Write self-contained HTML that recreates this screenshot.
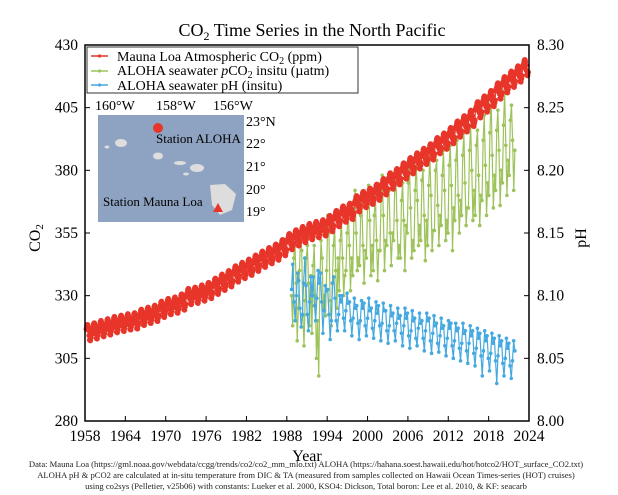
<!DOCTYPE html>
<html><head><meta charset="utf-8"><style>
body{margin:0;background:#fff}
svg{display:block;font-family:"Liberation Serif",serif}
</style></head><body>
<svg id="chart" width="618" height="495" viewBox="0 0 618 495" xmlns="http://www.w3.org/2000/svg">
<text x="312" y="36" font-size="18" text-anchor="middle">CO<tspan font-size="12" dy="4">2</tspan><tspan dy="-4"> Time Series in the North Pacific</tspan></text>
<g id="plot"></g>
<rect x="85" y="45" width="444" height="376" fill="none" stroke="#000" stroke-width="1.5"/>
<g id="axes"></g>
<text transform="translate(40,238) rotate(-90)" font-size="16" text-anchor="middle">CO<tspan font-size="11" dy="3">2</tspan></text>
<text transform="translate(586,238) rotate(-90)" font-size="16" text-anchor="middle">pH</text>
<text x="307" y="461" font-size="16" text-anchor="middle">Year</text>
<g font-size="8.6" text-anchor="middle" fill="#222">
<text x="306" y="467">Data: Mauna Loa (https://gml.noaa.gov/webdata/ccgg/trends/co2/co2_mm_mlo.txt) ALOHA (https://hahana.soest.hawaii.edu/hot/hotco2/HOT_surface_CO2.txt)</text>
<text x="306" y="478">ALOHA pH &amp; pCO2 are calculated at in-situ temperature from DIC &amp; TA (measured from samples collected on Hawaii Ocean Times-series (HOT) cruises)</text>
<text x="306" y="489">using co2sys (Pelletier, v25b06) with constants: Lueker et al. 2000, KSO4: Dickson, Total boron: Lee et al. 2010, &amp; KF: seacarb</text>
</g>
<g>
<rect x="87" y="47" width="271" height="46" fill="#fff" stroke="#333" stroke-width="1"/>
<line x1="91" y1="56" x2="108" y2="56" stroke="#e8352a" stroke-width="1.5"/><circle cx="99.5" cy="56" r="1.6" fill="#e8352a"/>
<text x="117" y="61" font-size="14">Mauna Loa Atmospheric CO<tspan font-size="10" dy="3">2</tspan><tspan dy="-3"> (ppm)</tspan></text>
<line x1="91" y1="71" x2="108" y2="71" stroke="#9dc35b" stroke-width="1.5"/><circle cx="99.5" cy="71" r="1.6" fill="#9dc35b"/>
<text x="117" y="75" font-size="14">ALOHA seawater <tspan font-style="italic">p</tspan>CO<tspan font-size="10" dy="3">2</tspan><tspan dy="-3"> insitu (µatm)</tspan></text>
<line x1="91" y1="85" x2="108" y2="85" stroke="#45a9e0" stroke-width="1.5"/><circle cx="99.5" cy="85" r="1.6" fill="#45a9e0"/>
<text x="117" y="90" font-size="14">ALOHA seawater pH (insitu)</text>
</g>
<g>
<text x="95" y="110" font-size="14">160°W</text><text x="156" y="110" font-size="14">158°W</text><text x="213" y="110" font-size="14">156°W</text>
<rect x="98" y="115" width="146" height="107" fill="#8ea3c1"/>
<ellipse cx="121" cy="143" rx="6" ry="4" fill="#ddd"/><ellipse cx="107" cy="147" rx="2.5" ry="1.5" fill="#ddd"/>
<ellipse cx="158" cy="156" rx="5" ry="3.5" fill="#ddd"/>
<ellipse cx="180" cy="163" rx="6" ry="2" fill="#ddd"/><ellipse cx="197" cy="168" rx="7" ry="4" fill="#ddd"/><ellipse cx="186" cy="174" rx="3" ry="1.5" fill="#ddd"/>
<path d="M210 185 L225 184 L236 194 L232 210 L220 215 L212 205 Z" fill="#ddd"/>
<circle cx="158" cy="128" r="5" fill="#e8352a"/>
<path d="M218 203 L223 212 L213 212 Z" fill="#e8352a"/>
<text x="156" y="143" font-size="13">Station ALOHA</text>
<text x="103" y="206" font-size="13">Station Mauna Loa</text>
<text x="246" y="126" font-size="14">23°N</text><text x="246" y="148" font-size="14">22°</text><text x="246" y="171" font-size="14">21°</text><text x="246" y="194" font-size="14">20°</text><text x="246" y="216" font-size="14">19°</text>
</g>
</svg>
<script>
// ---- data ----
const mloYears = [1958,1959,1960,1961,1962,1963,1964,1965,1966,1967,1968,1969,1970,1971,1972,1973,1974,1975,1976,1977,1978,1979,1980,1981,1982,1983,1984,1985,1986,1987,1988,1989,1990,1991,1992,1993,1994,1995,1996,1997,1998,1999,2000,2001,2002,2003,2004,2005,2006,2007,2008,2009,2010,2011,2012,2013,2014,2015,2016,2017,2018,2019,2020,2021,2022,2023];
const mloAnnual = [315.3,316.0,316.9,317.6,318.5,319.0,319.6,320.0,321.4,322.2,323.0,324.6,325.7,326.3,327.5,329.7,330.2,331.1,332.1,333.8,335.4,336.8,338.7,340.1,341.4,343.0,344.6,346.0,347.4,349.2,351.6,353.1,354.4,355.6,356.4,357.1,358.8,360.8,362.6,363.7,366.7,368.4,369.7,371.3,373.5,375.8,377.5,379.8,381.9,383.8,385.6,387.4,389.9,391.7,393.9,396.5,398.6,400.8,404.2,406.5,408.7,411.7,414.2,416.4,418.5,421.0];
const mloSeasonal = [0,0.7,1.4,2.6,3.1,2.4,0.9,-1.2,-3.0,-3.2,-1.9,-0.8];
const alohaStartYear = 1988.7;
const alohaEndYear = 2021.9;
const alohaPco2 = [
330,318,345,352,335,312, 325,340,355,348,322,310, 328,345,350,335,318,338, 315,342,350,330,305,320,
298,335,352,345,325,330, 322,340,362,355,328,318, 335,350,358,340,325,345, 332,352,360,345,330,338,
340,355,365,350,332,345, 338,360,372,355,340,345, 342,362,368,350,335,348, 345,365,374,360,338,350,
340,362,370,352,336,348, 348,368,378,362,340,352, 350,370,372,355,342,355, 352,372,380,360,345,350,
345,368,375,360,340,358, 355,375,382,365,345,352, 348,372,384,368,350,358, 352,376,380,362,344,360,
350,374,386,370,348,356, 356,380,384,366,350,362, 358,378,388,372,352,360, 355,382,390,374,348,365,
360,384,392,370,355,368, 362,386,395,375,358,365, 365,388,398,380,360,372, 362,390,396,378,358,370,
368,392,402,382,362,375, 370,395,410,386,365,378, 372,396,404,388,366,380, 375,398,412,390,370,384,
378,400,406,392,372,388];
const alohaPH = [
8.105,8.125,8.095,8.080,8.100,8.118, 8.112,8.090,8.075,8.085,8.110,8.130, 8.108,8.085,8.072,8.095,8.115,8.100,
8.115,8.092,8.080,8.098,8.120,8.110, 8.118,8.095,8.070,8.088,8.108,8.104, 8.105,8.085,8.065,8.080,8.110,8.115,
8.098,8.080,8.072,8.085,8.100,8.095, 8.100,8.082,8.072,8.088,8.102,8.094, 8.095,8.080,8.068,8.082,8.098,8.090,
8.092,8.078,8.065,8.080,8.096,8.090, 8.094,8.076,8.068,8.082,8.098,8.088, 8.090,8.074,8.066,8.080,8.095,8.086,
8.092,8.076,8.064,8.078,8.094,8.088, 8.088,8.072,8.062,8.076,8.092,8.084, 8.086,8.072,8.064,8.078,8.090,8.082,
8.084,8.070,8.060,8.076,8.090,8.082, 8.086,8.068,8.058,8.072,8.088,8.080, 8.082,8.066,8.060,8.074,8.086,8.078,
8.080,8.066,8.056,8.072,8.086,8.080, 8.082,8.064,8.054,8.070,8.084,8.076, 8.078,8.062,8.055,8.068,8.082,8.074,
8.076,8.060,8.052,8.066,8.080,8.074, 8.078,8.060,8.050,8.064,8.078,8.072, 8.074,8.058,8.048,8.062,8.078,8.070,
8.072,8.056,8.046,8.062,8.076,8.068, 8.072,8.054,8.044,8.058,8.074,8.066, 8.070,8.052,8.036,8.056,8.072,8.064,
8.068,8.050,8.040,8.054,8.070,8.062, 8.066,8.048,8.030,8.052,8.068,8.060, 8.064,8.046,8.036,8.050,8.066,8.058,
8.062,8.044,8.034,8.048,8.064,8.056];
const xTicks = [1958,1964,1970,1976,1982,1988,1994,2000,2006,2012,2018,2024];
const yTicks = [280,305,330,355,380,405,430];
const y2Ticks = ["8.00","8.05","8.10","8.15","8.20","8.25","8.30"];

// ---- axes ----
const X0=85,X1=529,Y0=421,Y1=45;
const xs = t => X0+(t-1958)/(2024-1958)*(X1-X0);
const ys = v => Y0-(v-280)/(430-280)*(Y0-Y1);
const yp = v => Y0-(v-8.0)/(0.3)*(Y0-Y1);
const NS="http://www.w3.org/2000/svg";
const plot=document.getElementById('plot'), axes=document.getElementById('axes');
function mk(tag,attrs,parent){const e=document.createElementNS(NS,tag);for(const k in attrs)e.setAttribute(k,attrs[k]);parent.appendChild(e);return e;}

xTicks.forEach(t=>{
  mk('line',{x1:xs(t),x2:xs(t),y1:Y0,y2:Y0-5,stroke:'#000'},axes);
  const tx=mk('text',{x:xs(t),y:441,'font-size':15.5,'text-anchor':'middle'},axes);
  
  
  tx.textContent=t;
});
yTicks.forEach(v=>{
  mk('line',{x1:X0,x2:X0+5,y1:ys(v),y2:ys(v),stroke:'#000'},axes);
  const tx=mk('text',{x:78,y:ys(v)+5,'font-size':15.5,'text-anchor':'end'},axes);
  
  
  tx.textContent=v;
});
y2Ticks.forEach(v=>{
  mk('line',{x1:X1,x2:X1-5,y1:yp(+v),y2:yp(+v),stroke:'#000'},axes);
  const tx=mk('text',{x:537,y:yp(+v)+5,'font-size':15.5},axes);
  
  
  tx.textContent=v;
});

function series(pts,color,r,name){
  const g=mk('g',{},plot);
  
  
  mk('polyline',{points:pts.map(p=>p.join(',')).join(' '),fill:'none',stroke:color,'stroke-width':1.2},g);
  pts.forEach(p=>mk('circle',{cx:p[0],cy:p[1],r:r,fill:color},g));
}
const gp=[],bp=[],mp=[];
const tAt=(i,n)=>alohaStartYear+i*(alohaEndYear-alohaStartYear)/(n-1);
alohaPco2.forEach((v,i)=>gp.push([xs(tAt(i,alohaPco2.length)),ys(v)]));
alohaPH.forEach((v,i)=>bp.push([xs(tAt(i,alohaPH.length)),yp(v)]));
mloYears.forEach((y,i)=>{ if(i>=mloAnnual.length) return;
  mloSeasonal.forEach((s,m)=>{ const t=y+(m+0.5)/12; if(t<1958.2||t>2023.9) return; mp.push([xs(t),ys(mloAnnual[i]+s)]);});
});
series(gp,'#9dc35b',1.8,'aloha-pco2-series');
series(bp,'#45a9e0',1.8,'aloha-ph-series');
series(mp,'#e8352a',2.8,'mauna-loa-co2-series');
</script>
</body></html>
